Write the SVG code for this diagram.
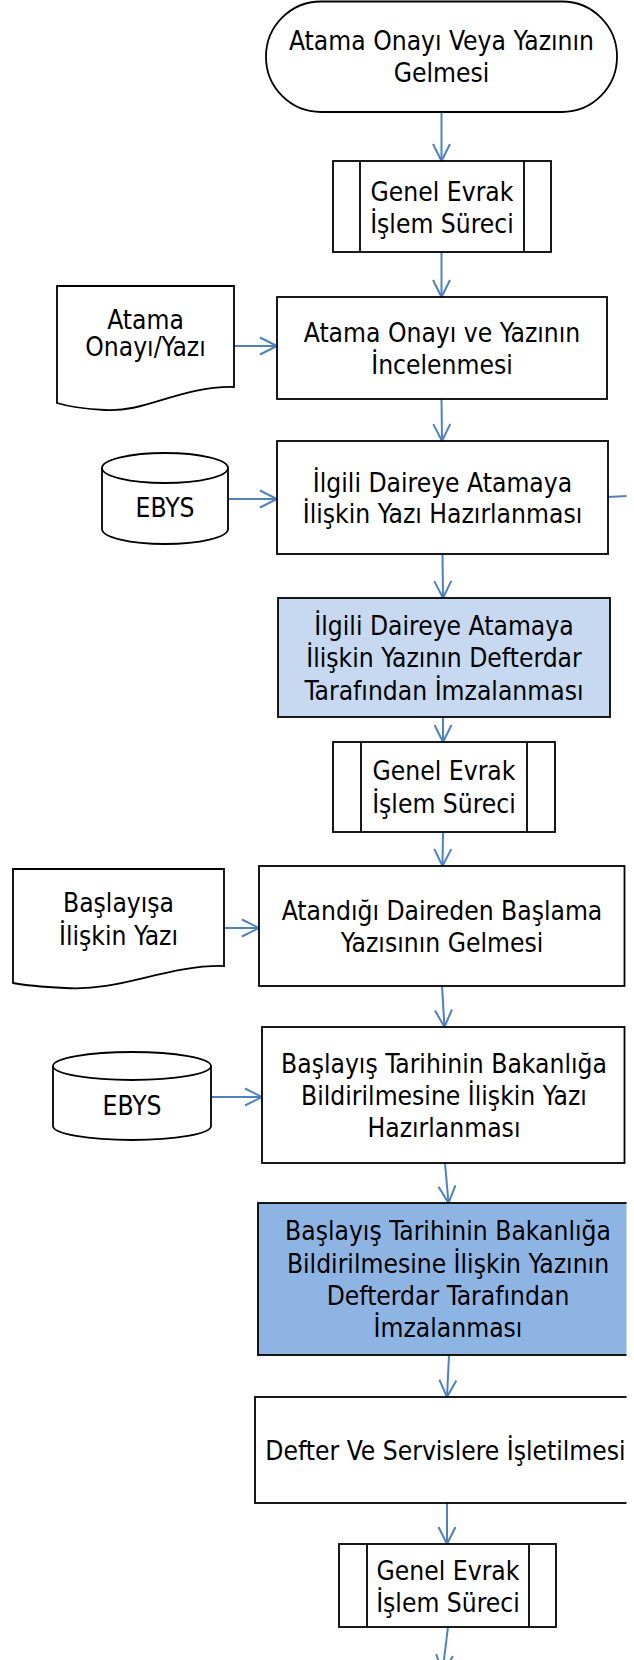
<svg xmlns="http://www.w3.org/2000/svg" width="634" height="1660" viewBox="0 0 634 1660">
<style>
.s{fill:#fff;stroke:#000;stroke-width:1.8}
.b1{fill:#C6D9F1;stroke:#000;stroke-width:1.8}
.b2{fill:#8EB4E3;stroke:#000;stroke-width:1.8}
.ln{fill:none;stroke:#000;stroke-width:1.8}
.t{font-family:'DejaVu Sans Condensed','DejaVu Sans',sans-serif;font-stretch:condensed;font-size:26.2px;fill:#000;text-anchor:middle}
.c{fill:none;stroke:#4F81BD;stroke-width:2;marker-end:url(#ah)}
.cn{fill:none;stroke:#4F81BD;stroke-width:2}
</style>
<defs>
<marker id="ah" viewBox="-19 -11 21 22" refX="0" refY="0" markerWidth="21" markerHeight="22" markerUnits="userSpaceOnUse" orient="auto" overflow="visible">
<path d="M-17,-8.5 L0,0 L-17,8.5" fill="none" stroke="#4F81BD" stroke-width="2"/>
</marker>
<clipPath id="pg"><rect x="0" y="0" width="626.5" height="1660"/></clipPath>
</defs>
<rect x="0" y="0" width="634" height="1660" fill="#fff"/>
<g clip-path="url(#pg)">
<g id="connectors">
<path class="c" d="M441.5,112 L441.5,161"/>
<path class="c" d="M441.5,252 L441.5,297"/>
<path class="c" d="M441.5,399 L442,441"/>
<path class="c" d="M442.5,554 L443,598"/>
<path class="c" d="M443,717 L443,742"/>
<path class="c" d="M443,832 L442.5,866"/>
<path class="c" d="M442,986 L444.5,1027"/>
<path class="c" d="M445,1163 L448.5,1203"/>
<path class="c" d="M449,1355 L447,1397"/>
<path class="c" d="M447,1503 L447,1544"/>
<path class="c" d="M448,1627 L442.5,1672"/>
<path class="c" d="M234,346 L277,346"/>
<path class="c" d="M228,499 L277,499"/>
<path class="c" d="M224,928 L259,928"/>
<path class="c" d="M211,1097 L262,1097"/>
<path class="cn" d="M608,497 L634,495.5"/>
</g>
<g id="n1">
<rect class="s" x="266" y="1.5" width="351" height="110.5" rx="55" ry="55"/>
<text class="t" x="441.5" y="50"><tspan x="441.5">Atama Onayı Veya Yazının</tspan><tspan x="441.5" y="82">Gelmesi</tspan></text>
</g>
<g id="n2">
<rect class="s" x="333" y="161" width="218" height="91"/>
<path class="ln" d="M360,161 V252 M524,161 V252"/>
<text class="t" x="442" y="201"><tspan x="442">Genel Evrak</tspan><tspan x="442" y="233">İşlem Süreci</tspan></text>
</g>
<g id="d1">
<path class="s" d="M57,286 H234 V387 C180,386 145,413 105,410 C85,409 70,407 57,403 Z"/>
<text class="t" x="145.5" y="329"><tspan x="145.5">Atama</tspan><tspan x="145.5" y="356">Onayı/Yazı</tspan></text>
</g>
<g id="n3">
<rect class="s" x="277" y="297" width="330" height="102"/>
<text class="t" x="442" y="342"><tspan x="442">Atama Onayı ve Yazının</tspan><tspan x="442" y="374">İncelenmesi</tspan></text>
</g>
<g id="db1">
<path class="s" d="M102,468 A63,15 0 0,1 228,468 V529 A63,15 0 0,1 102,529 Z"/>
<path class="ln" d="M102,468 A63,15 0 0,0 228,468"/>
<text class="t" x="165" y="517">EBYS</text>
</g>
<g id="n4">
<rect class="s" x="277" y="441" width="331" height="113"/>
<text class="t" x="442.5" y="492"><tspan x="442.5">İlgili Daireye Atamaya</tspan><tspan x="442.5" y="523">İlişkin Yazı Hazırlanması</tspan></text>
</g>
<g id="n5">
<rect class="b1" x="278" y="598" width="332" height="119"/>
<text class="t" x="444" y="635"><tspan x="444">İlgili Daireye Atamaya</tspan><tspan x="444" y="667">İlişkin Yazının Defterdar</tspan><tspan x="444" y="700">Tarafından İmzalanması</tspan></text>
</g>
<g id="n6">
<rect class="s" x="333" y="742" width="222" height="90"/>
<path class="ln" d="M361,742 V832 M527,742 V832"/>
<text class="t" x="444" y="780"><tspan x="444">Genel Evrak</tspan><tspan x="444" y="813">İşlem Süreci</tspan></text>
</g>
<g id="d2">
<path class="s" d="M13,869 H224 V966 C165,965 120,992 65,988 C45,987 28,986 13,983 Z"/>
<text class="t" x="118.5" y="912"><tspan x="118.5">Başlayışa</tspan><tspan x="118.5" y="945">İlişkin Yazı</tspan></text>
</g>
<g id="n7">
<rect class="s" x="259" y="866" width="365.5" height="120"/>
<text class="t" x="442" y="920"><tspan x="442">Atandığı Daireden Başlama</tspan><tspan x="442" y="952">Yazısının Gelmesi</tspan></text>
</g>
<g id="db2">
<path class="s" d="M53,1066 A79,14 0 0,1 211,1066 V1126 A79,14 0 0,1 53,1126 Z"/>
<path class="ln" d="M53,1066 A79,14 0 0,0 211,1066"/>
<text class="t" x="132" y="1115">EBYS</text>
</g>
<g id="n8">
<rect class="s" x="262" y="1027" width="362.5" height="136"/>
<text class="t" x="444" y="1073"><tspan x="444">Başlayış Tarihinin Bakanlığa</tspan><tspan x="444" y="1105">Bildirilmesine İlişkin Yazı</tspan><tspan x="444" y="1137">Hazırlanması</tspan></text>
</g>
<g id="n9">
<rect class="b2" x="258" y="1203" width="380" height="152"/>
<text class="t" x="448" y="1240"><tspan x="448">Başlayış Tarihinin Bakanlığa</tspan><tspan x="448" y="1273">Bildirilmesine İlişkin Yazının</tspan><tspan x="448" y="1305">Defterdar Tarafından</tspan><tspan x="448" y="1337">İmzalanması</tspan></text>
</g>
<g id="n10">
<rect class="s" x="255" y="1397" width="381" height="106"/>
<text class="t" x="445.5" y="1460">Defter Ve Servislere İşletilmesi</text>
</g>
<g id="n11">
<rect class="s" x="339" y="1544" width="217" height="83"/>
<path class="ln" d="M367,1544 V1627 M529,1544 V1627"/>
<text class="t" x="448" y="1580"><tspan x="448">Genel Evrak</tspan><tspan x="448" y="1612">İşlem Süreci</tspan></text>
</g>
</g>
</svg>
